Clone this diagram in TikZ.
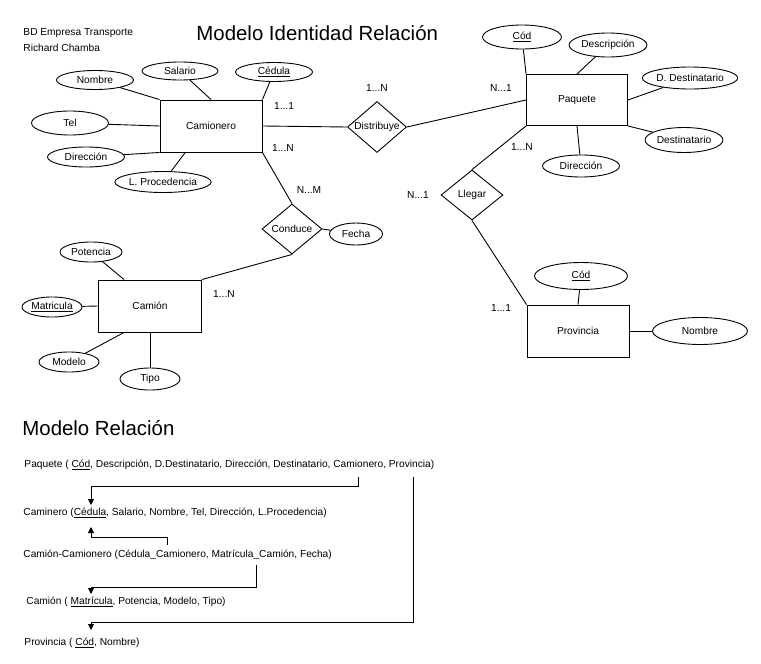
\documentclass[tikz,border=0pt]{standalone}
\usepackage{fontspec}
\setmainfont{Liberation Sans}
\usetikzlibrary{shapes.geometric,arrows.meta,calc}
\begin{document}
\begin{tikzpicture}[x=1pt,y=-1pt,
  every node/.style={font=\fontsize{10.2}{12}\selectfont, inner sep=0pt},
  ent/.style={draw, fill=white, rectangle, minimum width=102pt, minimum height=52pt},
  attr/.style={draw, fill=white, ellipse},
  rel/.style={draw, fill=white, diamond, minimum width=60pt, minimum height=50pt},
  txt/.style={anchor=west},
  big/.style={anchor=west, font=\fontsize{20.4}{24}\selectfont},
  conn/.style={draw, line width=0.9pt},
  arr/.style={draw, line width=0.9pt, -{Triangle[length=6pt,width=6pt]}},
  line width=0.9pt
]
\useasboundingbox[fill=white] (0,0) rectangle (761,664);

% headers
\node[txt] (h1) at (23,33) {BD Empresa Transporte};
\node[txt] (h2) at (23,48) {Richard Chamba};
\node[big] (title) at (196,33) {Modelo Identidad Relación};

% entities
\node[ent] (cam) at (211,126) {Camionero};
\node[ent, minimum width=101pt, minimum height=51pt] (paq) at (577,100) {Paquete};
\node[ent] (prov) at (578,331) {Provincia};
\node[ent, minimum width=103pt] (camion) at (150,306) {Camión};

% relationships
\node[rel, minimum width=59pt, minimum height=51pt, label=center:{Distribuye}] (dist) at (377,127) {};
\node[rel, minimum width=62pt, label=center:{Llegar}] (lleg) at (472,195) {};
\node[rel, label=center:{Conduce}] (cond) at (292,229) {};

% attributes Camionero
\node[attr, minimum width=77pt, minimum height=19pt] (nom) at (95,80) {Nombre};
\node[attr, minimum width=76pt, minimum height=18pt] (sal) at (180,71) {Salario};
\node[attr, minimum width=77pt, minimum height=19pt] (ced) at (274,72) {\underline{Cédula}};
\node[attr, minimum width=77pt, minimum height=24pt] (tel) at (70,123) {Tel};
\node[attr, minimum width=77pt, minimum height=20pt] (dir1) at (86,157) {Dirección};
\node[attr, minimum width=79pt, minimum height=21pt] (lproc) at (163,182) {L. Procedencia};

% attributes Paquete
\node[attr, minimum width=79pt, minimum height=24pt] (cod1) at (522,37) {\underline{Cód}};
\node[attr, minimum width=78pt, minimum height=24pt] (desc) at (608,45) {Descripción};
\node[attr, minimum width=75pt, minimum height=22pt] (ddest) at (690,78) {D. Destinatario};
\node[attr, minimum width=78pt, minimum height=25pt] (dest) at (684,140) {Destinatario};
\node[attr, minimum width=77pt, minimum height=22pt] (dir2) at (581,166) {Dirección};

% attributes Provincia
\node[attr, minimum width=93pt, minimum height=27pt] (cod2) at (581,276) {\underline{Cód}};
\node[attr, minimum width=95pt, minimum height=27pt] (nom2) at (700,331) {Nombre};

% attribute Conduce
\node[attr, minimum width=53pt, minimum height=22pt] (fecha) at (356,234) {Fecha};

% attributes Camion
\node[attr, minimum width=62pt, minimum height=20pt] (pot) at (91,252) {Potencia};
\node[attr, minimum width=60pt, minimum height=20pt] (mat) at (52,307) {\underline{Matricula}};
\node[attr, minimum width=60pt, minimum height=20pt] (mod) at (69,362) {Modelo};
\node[attr, minimum width=60pt, minimum height=22pt] (tipo) at (150,379) {Tipo};

% connectors
\draw[conn] (nom) -- (cam.north west);
\draw[conn] (sal) -- (cam.north);
\draw[conn] (ced) -- (cam.north east);
\draw[conn] (tel) -- (cam.west);
\draw[conn] (dir1) -- (cam.south west);
\draw[conn] (lproc) -- ($(cam.south west)!0.25!(cam.south east)$);
\draw[conn] (cam.east) -- (dist.west);
\draw[conn] (dist.east) -- (paq.west);
\draw[conn] (cam.south east) -- (cond.north);
\draw[conn] (cond.east) -- (fecha);
\draw[conn] (cond.south) -- (camion.north east);

\draw[conn] (cod1) -- (paq.north west);
\draw[conn] (desc) -- (paq.north);
\draw[conn] (ddest) -- (paq.east);
\draw[conn] (dest) -- (paq.south east);
\draw[conn] (dir2) -- (paq.south);
\draw[conn] (paq.south west) -- (lleg.north);
\draw[conn] (lleg.south) -- (prov.north west);
\draw[conn] (cod2) -- (prov.north);
\draw[conn] (nom2) -- (prov.east);

\draw[conn] (pot) -- ($(camion.north west)!0.25!(camion.north east)$);
\draw[conn] (mat) -- (camion.west);
\draw[conn] (mod) -- ($(camion.south west)!0.25!(camion.south east)$);
\draw[conn] (tipo) -- (camion.south);

% cardinalities
\node (c1) at (377,88) {1...N};
\node (c2) at (501,88) {N...1};
\node (c3) at (284,106) {1...1};
\node (c4) at (283,148) {1...N};
\node (c5) at (309,190) {N...M};
\node (c6) at (522,147) {1...N};
\node (c7) at (418,195) {N...1};
\node (c8) at (224,294) {1...N};
\node (c9) at (501,308) {1...1};

% relational model
\node[big] (title2) at (22,428) {Modelo Relación};
\node[txt] (r1) at (24,465) {Paquete ( \underline{Cód}, Descripción, D.Destinatario, Dirección, Destinatario, Camionero, Provincia)};
\node[txt] (r2) at (23,513) {Caminero (\underline{Cédula}, Salario, Nombre, Tel, Dirección, L.Procedencia)};
\node[txt] (r3) at (23,555) {Camión-Camionero (Cédula\_Camionero, Matrícula\_Camión, Fecha)};
\node[txt] (r4) at (26,602) {Camión ( \underline{Matrícula}, Potencia, Modelo, Tipo)};
\node[txt] (r5) at (24,643) {Provincia ( \underline{Cód}, Nombre)};

\coordinate (a1s) at (358,477);
\coordinate (a1e) at (91,505);
\coordinate (a2s) at (167,545);
\coordinate (a2e) at (91,527);
\coordinate (a3s) at (256,565);
\coordinate (a3e) at (91,594);
\coordinate (a4s) at (413,477);
\coordinate (a4e) at (91,630);

\draw[arr] (a1s) -- ++(0,9) -| (a1e);
\draw[arr] (a2s) -- ++(0,-8) -| (a2e);
\draw[arr] (a3s) -- ++(0,22) -| (a3e);
\draw[arr] (a4s) -- ++(0,145) -| (a4e);
\end{tikzpicture}
\end{document}
